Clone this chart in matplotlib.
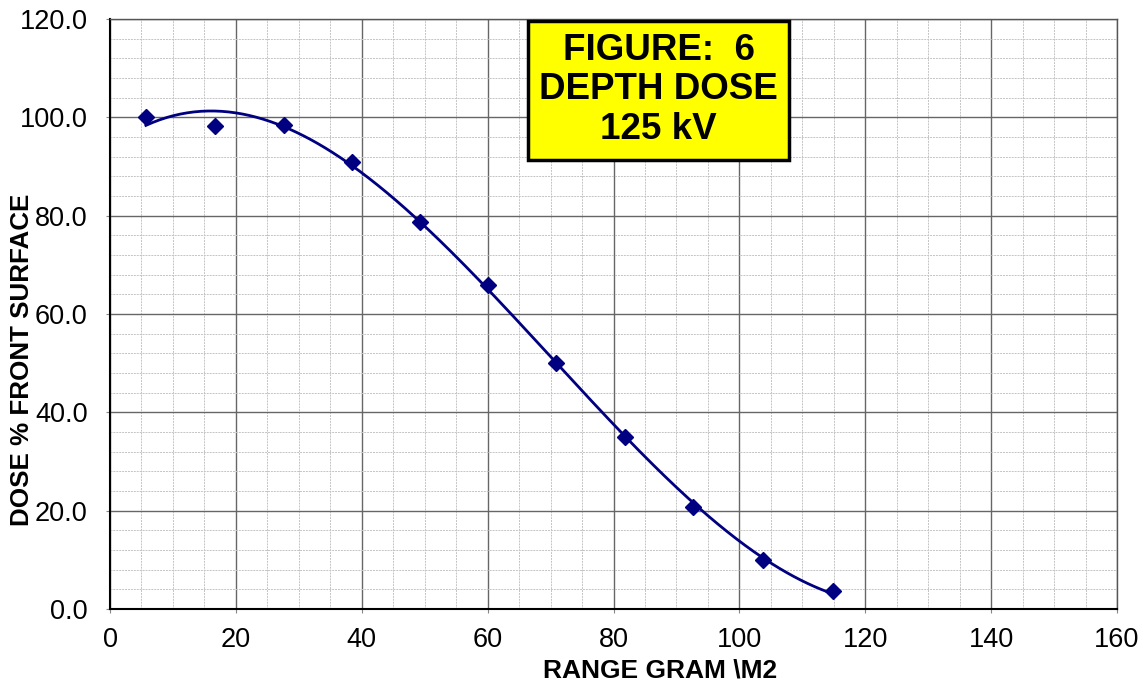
import numpy as np
import matplotlib.pyplot as plt
from matplotlib.patches import Rectangle
from matplotlib.ticker import MultipleLocator, FormatStrFormatter

plt.rcParams['font.family'] = ['Liberation Sans', 'DejaVu Sans']

# measured depth dose points
range_gm2 = [5.7, 16.7, 27.7, 38.5, 49.3, 60.1, 70.9, 81.9, 92.7, 103.8, 114.8]
dose_pct = [100.0, 98.2, 98.5, 90.9, 78.7, 65.9, 50.0, 35.0, 20.7, 10.0, 3.7]

title_lines = ['FIGURE:  6', 'DEPTH DOSE', '125 kV']

x = np.array(range_gm2)
y = np.array(dose_pct)

# 3rd order trendline, like the spreadsheet
coef = np.polyfit(x, y, 3)
xs = np.linspace(x.min(), x.max(), 300)
ys = np.polyval(coef, xs)

fig = plt.figure(figsize=(11.48, 6.87), dpi=100)
ax = fig.add_axes([110/1148, 1 - 609/687, (1117-110)/1148, (609-19)/687])

ax.set_xlim(0, 160)
ax.set_ylim(0, 120)
ax.xaxis.set_major_locator(MultipleLocator(20))
ax.xaxis.set_minor_locator(MultipleLocator(5))
ax.yaxis.set_major_locator(MultipleLocator(20))
ax.yaxis.set_minor_locator(MultipleLocator(4))
ax.yaxis.set_major_formatter(FormatStrFormatter('%.1f'))

ax.grid(which='minor', color='#c4c4c4', linestyle=(0, (2, 1)), linewidth=0.7)
ax.grid(which='major', color='#666666', linestyle='-', linewidth=1.0)
ax.set_axisbelow(True)

ax.plot(xs, ys, color='#000080', linewidth=2.0, zorder=3)
ax.plot(x, y, linestyle='none', marker='D', markersize=8, color='#000080', zorder=4)

ax.tick_params(which='major', direction='out', length=3, color='#888888', labelsize=19.5, pad=13)
ax.tick_params(axis='x', pad=10)
ax.tick_params(which='minor', length=0)
for side in ['left', 'bottom']:
  ax.spines[side].set_color('black')
  ax.spines[side].set_linewidth(1.5)
for side in ['top', 'right']:
  ax.spines[side].set_color('#555555')
  ax.spines[side].set_linewidth(1.0)

ax.set_xlabel('RANGE GRAM \\M2', fontsize=19, fontweight='bold')
ax.set_ylabel('DOSE % FRONT SURFACE', fontsize=18.7, fontweight='bold')
ax.xaxis.set_label_coords(0.546, -0.105)
ax.yaxis.set_label_coords(-0.0874, 0.422)
ax.xaxis.label.set_va('center')
ax.yaxis.label.set_va('center')

# yellow title box
ax.add_patch(Rectangle((0.4151, 0.761), 0.2592, 0.2356, transform=ax.transAxes,
                       facecolor='#ffff00', edgecolor='black', linewidth=2.5, zorder=5))
ax.text(0.5447, 0.8797, '\n'.join(title_lines), transform=ax.transAxes,
        ha='center', va='center', fontsize=26.5, fontweight='bold', linespacing=1.18,
        zorder=6)

fig.savefig('out.png', dpi=100)
